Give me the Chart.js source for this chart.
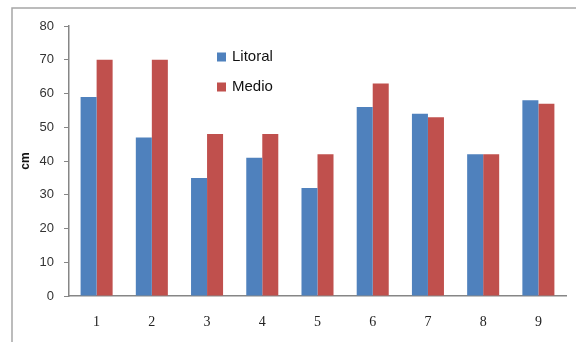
<!DOCTYPE html>
<html>
<head>
<meta charset="utf-8">
<script src="https://cdn.jsdelivr.net/npm/chart.js@4/dist/chart.umd.min.js"></script>
<style>
  html, body { margin: 0; padding: 0; background: #fff; }
  #wrap { width: 576px; height: 342px; position: relative; }
</style>
</head>
<body>
<div id="wrap"><canvas id="c" width="576" height="342"></canvas></div>
<script>
const categories = ['1', '2', '3', '4', '5', '6', '7', '8', '9'];
const litoral = [59, 47, 35, 41, 32, 56, 54, 42, 58];
const medio   = [70, 70, 48, 48, 42, 63, 53, 42, 57];
const seriesNames = ['Litoral', 'Medio'];
const seriesColors = ['#4F81BD', '#C0504D'];

// Partial frame around the chart (left and top edges only)
const framePlugin = {
  id: 'frame',
  beforeDraw(chart) {
    const ctx = chart.ctx;
    ctx.save();
    ctx.strokeStyle = '#a6a6a6';
    ctx.lineWidth = 1.5;
    ctx.beginPath();
    ctx.moveTo(12, 342);
    ctx.lineTo(12, 8);
    ctx.lineTo(576, 8);
    ctx.stroke();
    ctx.restore();
  }
};

// Legend drawn inside the plot, stacked vertically
const innerLegend = {
  id: 'innerLegend',
  afterDraw(chart) {
    const ctx = chart.ctx;
    ctx.save();
    ctx.font = '15px "Liberation Sans", Arial, sans-serif';
    ctx.textBaseline = 'middle';
    chart.data.datasets.forEach((ds, i) => {
      const y = 57 + i * 30;
      ctx.fillStyle = ds.backgroundColor;
      ctx.fillRect(217, y - 4.5, 9, 9);
      ctx.fillStyle = '#111';
      ctx.fillText(ds.label, 232, y);
    });
    ctx.restore();
  }
};

new Chart(document.getElementById('c'), {
  type: 'bar',
  data: {
    labels: categories,
    datasets: [
      { label: seriesNames[0], data: litoral, backgroundColor: seriesColors[0] },
      { label: seriesNames[1], data: medio, backgroundColor: seriesColors[1] }
    ]
  },
  options: {
    responsive: false,
    animation: false,
    devicePixelRatio: 1,
    layout: { padding: { left: 16, right: 10, top: 26, bottom: 0 } },
    plugins: { legend: { display: false }, tooltip: { enabled: false } },
    datasets: { bar: { categoryPercentage: 0.58, barPercentage: 1.0 } },
    scales: {
      x: {
        grid: { display: false, drawTicks: false },
        border: { display: true, color: '#868686', width: 1.5 },
        ticks: {
          padding: 18,
          color: '#222',
          font: { family: '"Liberation Serif", "Times New Roman", serif', size: 14 }
        },
        afterFit(scale) { scale.height = 46; }
      },
      y: {
        min: 0, max: 80,
        grid: { drawOnChartArea: false, drawTicks: true, tickLength: 5, color: '#868686' },
        border: { display: true, color: '#868686', width: 1.5 },
        ticks: {
          stepSize: 10,
          padding: 10,
          color: '#333',
          font: { family: '"Liberation Sans", Arial, sans-serif', size: 13 }
        },
        title: {
          display: true,
          text: 'cm',
          color: '#111',
          padding: { top: 2, bottom: 0 },
          font: { family: '"Liberation Sans", Arial, sans-serif', size: 12, weight: 'bold' }
        },
        afterFit(scale) { scale.width = 53; }
      }
    }
  },
  plugins: [framePlugin, innerLegend]
});
</script>
</body>
</html>
